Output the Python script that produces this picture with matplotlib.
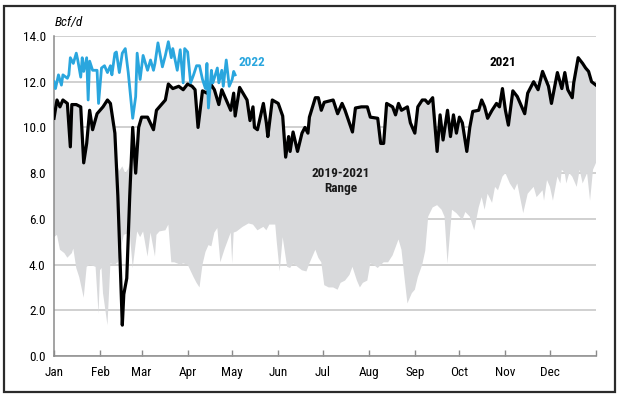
import matplotlib
matplotlib.use("Agg")
import matplotlib.pyplot as plt
from matplotlib.patches import Rectangle
import numpy as np

plt.rcParams['font.family'] = ['Roboto Condensed', 'Liberation Sans Narrow', 'Liberation Sans', 'DejaVu Sans']

# day of year (0 = Jan 1) and Bcf/d
days_2021 = [0, 2, 4, 6, 9, 11, 12, 15, 18, 20, 22, 24, 26, 29, 31, 33, 36, 38, 41, 43,
             46, 47, 49, 51, 53, 55, 57, 59, 63, 67, 69, 73, 75, 77, 80, 84, 87, 90, 93, 95,
             97, 100, 103, 106, 108, 111, 113, 116, 119, 121, 122, 125, 130, 132, 134, 135, 137, 141, 143, 144,
             147, 151, 154, 156, 158, 159, 161, 164, 167, 169, 171, 172, 176, 178, 180, 182, 188, 191, 194, 196,
             201, 203, 207, 211, 213, 218, 220, 222, 224, 228, 230, 232, 234, 238, 240, 243, 245, 248, 250, 252,
             255, 258, 260, 262, 265, 267, 269, 271, 273, 275, 278, 280, 282, 286, 288, 290, 292, 295, 298, 300,
             302, 304, 306, 309, 312, 315, 317, 319, 323, 326, 329, 333, 335, 339, 342, 344, 346, 349, 350, 353,
             356, 358, 360, 362, 365]
vals_2021 = [10.4, 11.2, 10.9, 11.2, 11.05, 9.15, 11.0, 11.0, 10.9, 8.45, 9.3, 10.75, 9.9, 10.6, 10.75, 10.9, 11.2, 11.05, 9.75, 7.0,
             1.35, 2.7, 3.4, 7.0, 10.0, 8.0, 10.0, 10.45, 10.45, 9.9, 10.75, 11.05, 11.2, 11.9, 11.7, 11.8, 11.65, 11.9, 11.8, 11.65,
             10.0, 11.6, 11.5, 11.85, 11.65, 11.0, 11.65, 11.2, 10.75, 11.5, 10.5, 11.75, 11.2, 10.3, 10.9, 10.0, 9.9, 11.05, 10.2, 9.6,
             11.2, 11.05, 10.5, 8.7, 9.6, 8.95, 9.8, 8.95, 9.75, 10.0, 9.75, 10.45, 11.3, 11.3, 10.75, 11.1, 11.2, 10.6, 11.05, 10.75,
             9.8, 10.85, 10.9, 10.9, 10.45, 10.4, 9.3, 9.3, 11.05, 10.9, 10.55, 11.05, 10.75, 10.9, 10.2, 9.75, 10.9, 11.2, 11.2, 11.05,
             11.3, 8.95, 10.55, 9.45, 10.75, 9.6, 10.55, 9.75, 10.45, 10.2, 8.95, 10.0, 10.7, 10.75, 11.2, 10.9, 10.4, 10.75, 11.05, 10.9,
             11.7, 10.75, 10.1, 11.6, 11.35, 10.9, 10.6, 11.5, 12.0, 11.65, 12.45, 11.8, 11.05, 12.4, 11.7, 12.4, 11.65, 11.3, 11.95, 13.05,
             12.8, 12.6, 12.45, 12.0, 11.85]

days_2022 = [0, 1, 3, 5, 6, 9, 10, 11, 13, 15, 16, 18, 19, 20, 22, 23, 24, 26, 29, 30,
             32, 34, 36, 38, 39, 41, 42, 44, 46, 48, 50, 53, 55, 56, 58, 60, 63, 65, 67, 68,
             70, 73, 75, 77, 79, 80, 83, 85, 87, 88, 90, 92, 94, 96, 98, 100, 102, 103, 104, 106,
             107, 110, 111, 113, 114, 116, 118, 120, 121, 122]
vals_2022 = [12.0, 11.7, 12.3, 11.85, 12.3, 12.15, 12.3, 13.05, 12.8, 13.25, 12.95, 12.2, 13.05, 12.45, 13.05, 11.2, 12.9, 12.5, 12.5, 11.05,
             12.6, 12.7, 12.4, 12.7, 12.3, 13.25, 13.3, 12.4, 13.25, 13.45, 12.4, 10.4, 11.35, 13.25, 12.1, 13.15, 12.5, 12.95, 12.5, 12.8,
             13.7, 12.65, 13.15, 13.75, 13.05, 13.45, 12.5, 13.4, 11.95, 13.45, 13.3, 11.95, 12.3, 12.7, 12.7, 12.1, 11.7, 12.8, 10.85, 12.5,
             11.95, 12.6, 11.95, 12.5, 11.8, 12.95, 11.8, 12.1, 12.45, 12.3]

# 2019-2021 range: low edge, and top edge where it is not the 2021 line (Feb freeze)
range_lo_days = [0, 2, 4, 7, 9, 12, 13, 15, 17, 20, 22, 24, 28, 30, 31, 32, 33, 36, 38, 41,
                 43, 47, 51, 53, 56, 58, 60, 63, 65, 68, 69, 71, 75, 77, 79, 81, 85, 87, 90, 94,
                 96, 98, 100, 102, 104, 106, 108, 110, 112, 115, 119, 120, 121, 123, 127, 131, 134, 137, 141, 143,
                 145, 149, 150, 152, 154, 157, 159, 161, 164, 167, 170, 172, 176, 178, 180, 182, 185, 188, 191, 193,
                 196, 199, 201, 204, 206, 208, 211, 213, 215, 218, 222, 225, 228, 232, 234, 236, 238, 241, 243, 245,
                 248, 250, 252, 255, 258, 261, 263, 265, 268, 271, 275, 277, 280, 283, 286, 288, 290, 292, 295, 297,
                 299, 302, 304, 307, 310, 312, 316, 319, 323, 325, 329, 330, 332, 334, 336, 339, 341, 342, 344, 345,
                 347, 349, 352, 354, 356, 359, 361, 363, 365]
range_lo_vals = [5.2, 5.3, 4.65, 4.5, 4.3, 4.5, 4.7, 3.85, 3.45, 2.55, 3.9, 4.0, 3.9, 1.85, 3.75, 3.85, 2.75, 1.35, 4.05, 4.0,
                 4.1, 5.3, 5.4, 3.85, 5.45, 5.2, 5.45, 4.35, 5.4, 4.35, 5.3, 5.45, 5.5, 5.75, 4.1, 4.1, 4.0, 4.05, 4.0, 3.45,
                 3.2, 3.0, 4.0, 4.55, 4.85, 4.8, 5.4, 5.6, 4.1, 4.7, 5.4, 4.05, 5.4, 5.45, 5.65, 5.8, 5.75, 5.5, 5.65, 5.5,
                 5.75, 5.75, 5.0, 3.7, 5.2, 3.9, 3.85, 4.05, 3.9, 3.75, 3.7, 4.05, 4.65, 4.3, 4.1, 3.1, 3.0, 3.0, 2.9, 3.2,
                 3.3, 3.55, 3.9, 3.3, 3.0, 3.2, 3.3, 4.05, 4.0, 3.85, 4.1, 4.1, 4.4, 5.1, 4.65, 3.45, 2.3, 2.75, 2.9, 3.45,
                 4.0, 4.6, 6.1, 6.5, 6.6, 6.4, 6.1, 4.05, 6.4, 6.25, 5.95, 6.3, 6.1, 5.5, 6.5, 6.95, 6.4, 7.1, 6.7, 7.4,
                 7.25, 7.85, 8.0, 7.55, 7.25, 7.55, 6.25, 7.1, 7.4, 6.95, 7.25, 6.8, 7.7, 7.4, 6.8, 7.85, 7.55, 8.15, 8.0, 7.55,
                 8.0, 7.85, 7.4, 8.15, 7.55, 8.0, 6.8, 8.15, 8.45]
freeze_hi_days = [42, 44, 46, 48, 50, 52]
freeze_hi_vals = [8.4, 8.1, 8.3, 8.0, 8.2, 8.6]

month_starts = [0, 31, 59, 90, 120, 151, 181, 212, 243, 273, 304, 334, 365]
month_labels = ['Jan', 'Feb', 'Mar', 'Apr', 'May', 'Jun', 'Jul', 'Aug', 'Sep', 'Oct', 'Nov', 'Dec', '']

blue = '#2aa6de'
grey_fill = '#d8d9db'
grid_c = '#c4c4c4'

fig = plt.figure(figsize=(6.2, 3.97), dpi=100)
ax = fig.add_axes([54 / 620, 1 - 356 / 397, 542 / 620, 320 / 397])

# upper edge of the range = 2021 line, except during the February freeze
d21 = np.array(days_2021)
v21 = np.array(vals_2021)
before = d21 <= 41
after = d21 >= 53
hi_d = np.concatenate([d21[before], freeze_hi_days, d21[after]])
hi_v = np.concatenate([v21[before], freeze_hi_vals, v21[after]])
poly_x = np.concatenate([hi_d, range_lo_days[::-1]])
poly_y = np.concatenate([hi_v, range_lo_vals[::-1]])
ax.fill(poly_x, poly_y, color=grey_fill, lw=0, zorder=1)

ax.plot(days_2021, vals_2021, color='black', lw=2.3, solid_joinstyle='round', zorder=3)
ax.plot(days_2022, vals_2022, color=blue, lw=2.0, solid_joinstyle='round', zorder=4)

ax.set_xlim(0, 365)
ax.set_ylim(0, 14)
ax.set_yticks(np.arange(0, 15, 2))
ax.set_yticklabels(['%.1f' % v for v in np.arange(0, 15, 2)], fontsize=9.5)
ax.set_xticks(month_starts)
ax.set_xticklabels(month_labels, fontsize=9.5)
ax.tick_params(axis='x', direction='in', length=4, width=1, color='#8a8a8a', pad=7)
ax.tick_params(axis='y', length=0, pad=6)
ax.set_axisbelow(True)
ax.grid(axis='y', color=grid_c, lw=1.1, zorder=0)
for s in ['top', 'right']:
    ax.spines[s].set_visible(False)
for s in ['left', 'bottom']:
    ax.spines[s].set_color('#8a8a8a')
    ax.spines[s].set_linewidth(1.1)

ax.text(0.7, 14.6, 'Bcf/d', style='italic', fontsize=9.5, va='center', ha='left', clip_on=False)
ax.text(124, 12.85, '2022', color=blue, fontsize=9.5, fontweight='bold', va='center', ha='left')
ax.text(302, 12.85, '2021', color='black', fontsize=9.5, fontweight='bold', va='center', ha='center')
ax.text(193, 7.65, '2019-2021\nRange', color='#1a1a1a', fontsize=9.5, fontweight='bold',
        va='center', ha='center', linespacing=1.15)

fig.patches.append(Rectangle((4 / 620, 1 - 392 / 397), 611 / 620, 386 / 397,
                             transform=fig.transFigure, fill=False, edgecolor='#2b2b2b', lw=1.6))

fig.savefig('out.png', dpi=100)
